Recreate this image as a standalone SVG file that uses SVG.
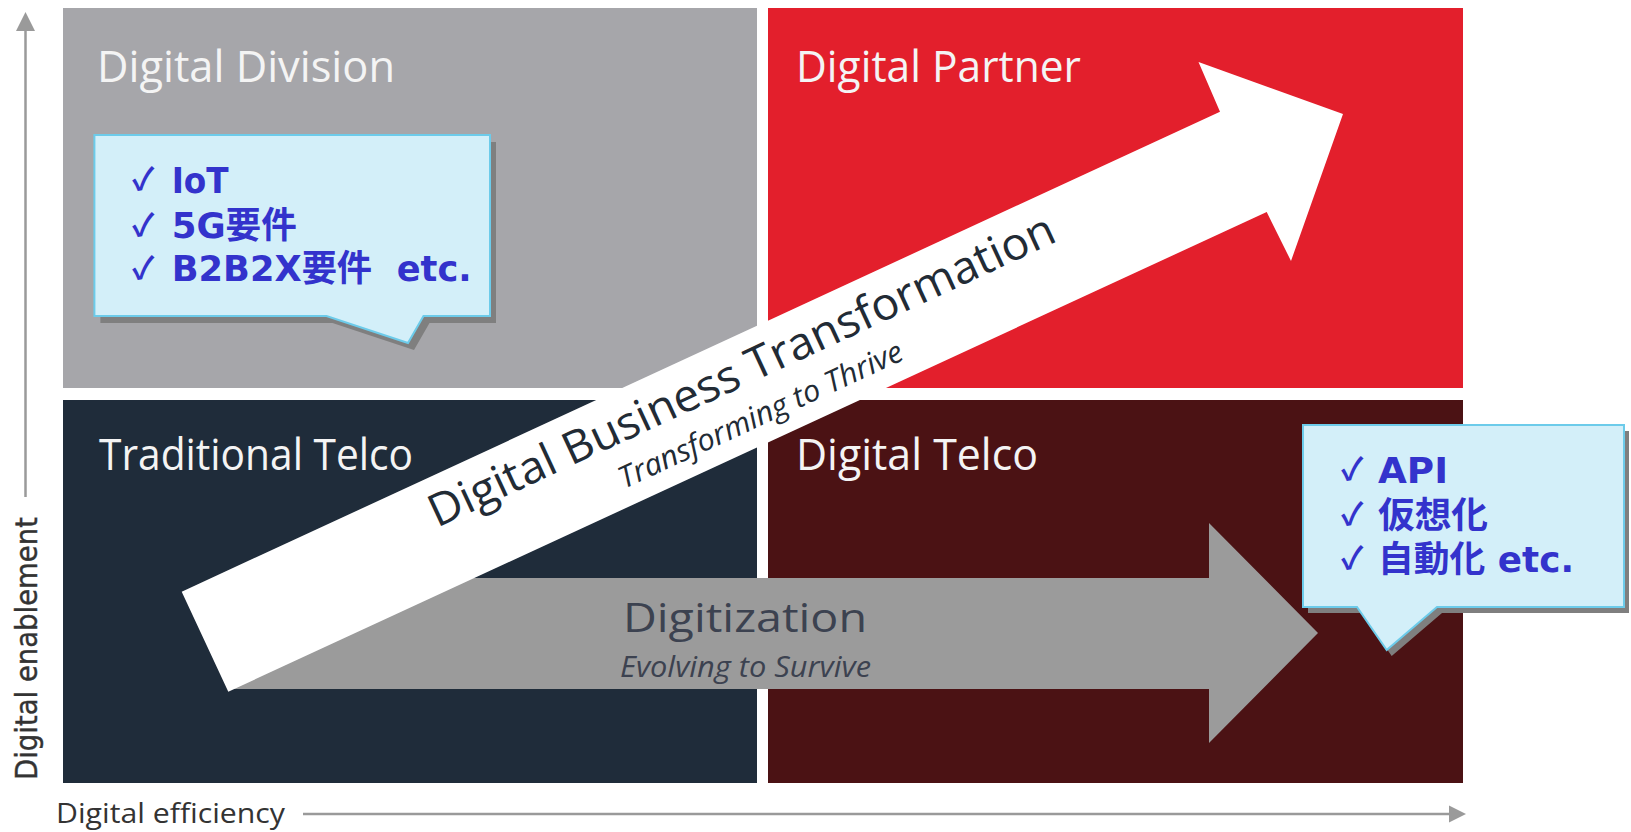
<svg xmlns="http://www.w3.org/2000/svg" width="1631" height="832" viewBox="0 0 1631 832">
<defs>
<style>
.title{font-family:"Open Sans","Noto Sans",sans-serif;font-size:43px;fill:#f4f4f4}
.callout{fill:#d3eff9;stroke:#6ccbea;stroke-width:2}
.shadow{fill:#7f7f7f}
.chk{font-family:"Noto Sans CJK JP","DejaVu Sans",sans-serif;font-size:31px;font-weight:bold;fill:#3333cc}
.item{font-family:"DejaVu Sans","Noto Sans CJK JP",sans-serif;font-size:36px;font-weight:bold;fill:#3333cc;white-space:pre}
.axis{stroke:#9a9a9a;stroke-width:2.5;fill:none}
.axhead{fill:#9a9a9a}
</style>
</defs>
<rect width="1631" height="832" fill="#ffffff"/>

<g id="quadrant-digital-division">
<rect x="63" y="8" width="694" height="380" fill="#a6a6aa"/>
<text class="title" x="97" y="82" textLength="298" lengthAdjust="spacingAndGlyphs">Digital Division</text>
</g>
<g id="quadrant-digital-partner">
<rect x="768" y="8" width="695" height="380" fill="#e31f2c"/>
<text class="title" x="796" y="82" textLength="285" lengthAdjust="spacingAndGlyphs">Digital Partner</text>
</g>
<g id="quadrant-traditional-telco">
<rect x="63" y="400" width="694" height="383" fill="#1f2c3a"/>
<text class="title" x="99" y="470" textLength="314" lengthAdjust="spacingAndGlyphs">Traditional Telco</text>
</g>
<g id="quadrant-digital-telco">
<rect x="768" y="400" width="695" height="383" fill="#4b1214"/>
<text class="title" x="796" y="470" textLength="242" lengthAdjust="spacingAndGlyphs">Digital Telco</text>
</g>

<g id="connectors">
<g id="digitization-arrow">
<polygon points="230,578 1209,578 1209,523 1318,633 1209,743 1209,689 230,689" fill="#9b9b9b"/>
<text x="623" y="632" font-family="'Open Sans','Noto Sans',sans-serif" font-size="41" fill="#3c4250" textLength="244" lengthAdjust="spacingAndGlyphs">Digitization</text>
<text x="620" y="677" font-family="'Open Sans','Noto Sans',sans-serif" font-size="30" font-style="italic" fill="#3c4250" textLength="251" lengthAdjust="spacingAndGlyphs">Evolving to Survive</text>
</g>
<g id="transformation-arrow">
<polygon points="181.7,591.7 1220,111.7 1198.5,62 1343,114 1291,261 1266.7,212 228.3,691.7" fill="#ffffff"/>
<text transform="translate(437,528) rotate(-24.8)" x="0" y="0" font-family="'Open Sans','Noto Sans',sans-serif" font-size="45" fill="#222b35" textLength="685" lengthAdjust="spacingAndGlyphs">Digital Business Transformation</text>
<text transform="translate(624,489) rotate(-24.8)" x="0" y="0" font-family="'Open Sans','Noto Sans',sans-serif" font-size="30" font-style="italic" fill="#222b35" textLength="310" lengthAdjust="spacingAndGlyphs">Transforming to Thrive</text>
</g>
<g id="axes">
<line class="axis" x1="25.5" y1="28" x2="25.5" y2="497"/>
<polygon class="axhead" points="25.5,12 35,31 16,31"/>
<line class="axis" x1="303" y1="814" x2="1452" y2="814"/>
<polygon class="axhead" points="1466,814 1449,805.5 1449,822.5"/>
</g>
</g>

<g id="axis-label-y">
<text transform="translate(37,780) rotate(-90)" font-family="'DejaVu Sans',Verdana,sans-serif" font-size="30" fill="#333333" stroke="#333333" stroke-width="0.4" textLength="263" lengthAdjust="spacingAndGlyphs">Digital enablement</text>
</g>
<g id="axis-label-x">
<text x="56" y="823" font-family="'Open Sans','Noto Sans',sans-serif" font-size="27" fill="#333333" textLength="229" lengthAdjust="spacingAndGlyphs">Digital efficiency</text>
</g>

<g id="callout-division">
<path class="shadow" transform="translate(6,7)" d="M94.4,135 H490 V316 H423.5 L408,343 L326.5,316 H94.4 Z"/>
<path class="callout" d="M94.4,135 H490 V316 H423.5 L408,343 L326.5,316 H94.4 Z"/>
<text class="chk" x="132" y="190">✓</text>
<text class="item" x="171.7" y="193" textLength="57" lengthAdjust="spacingAndGlyphs">IoT</text>
<text class="chk" x="132" y="236">✓</text>
<text class="item" x="171.7" y="238" textLength="125" lengthAdjust="spacingAndGlyphs">5G要件</text>
<text class="chk" x="132" y="279">✓</text>
<text class="item" x="171.7" y="281" textLength="300" lengthAdjust="spacingAndGlyphs" xml:space="preserve">B2B2X要件  etc.</text>
</g>

<g id="callout-telco">
<path class="shadow" transform="translate(5,6)" d="M1303,425 H1624 V607 H1437 L1386.7,650 L1357,607 H1303 Z"/>
<path class="callout" d="M1303,425 H1624 V607 H1437 L1386.7,650 L1357,607 H1303 Z"/>
<text class="chk" x="1341" y="480">✓</text>
<text class="item" x="1378" y="483" textLength="70" lengthAdjust="spacingAndGlyphs">API</text>
<text class="chk" x="1341" y="525">✓</text>
<text class="item" x="1378" y="528" textLength="110" lengthAdjust="spacingAndGlyphs">仮想化</text>
<text class="chk" x="1341" y="569">✓</text>
<text class="item" x="1378" y="572" textLength="196" lengthAdjust="spacingAndGlyphs">自動化 etc.</text>
</g>
</svg>
